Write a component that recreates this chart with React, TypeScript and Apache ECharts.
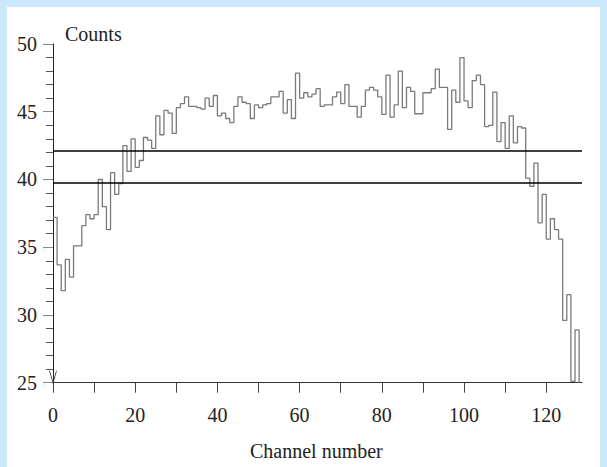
import React, { useEffect, useRef } from "react";
import * as echarts from "echarts";

// Counts per channel (channels 0..127)
const counts: number[] = [
  37.2, 33.7, 31.8, 34.1, 32.8, 35.1, 35.1, 36.6, 37.4, 37.1,
  37.4, 40.0, 38.0, 36.3, 40.5, 38.9, 39.7, 42.5, 40.6, 43.0,
  40.9, 41.4, 43.1, 42.9, 42.3, 44.7, 43.3, 45.1, 44.9, 43.4,
  45.3, 45.6, 46.1, 45.4, 45.4, 45.3, 45.2, 46.0, 45.4, 46.2,
  44.7, 44.9, 44.5, 44.2, 45.4, 46.1, 45.7, 45.6, 44.5, 45.5,
  45.3, 45.5, 45.6, 46.1, 46.1, 46.5, 44.9, 45.9, 44.5, 47.85,
  46.0, 46.4, 46.1, 46.3, 46.7, 45.4, 45.5, 45.5, 46.1, 46.45,
  45.6, 47.0, 45.4, 45.4, 44.6, 45.4, 46.6, 46.8, 46.6, 46.1,
  44.8, 47.7, 44.6, 45.5, 48.0, 45.3, 46.8, 46.5, 44.85, 44.85,
  46.4, 46.4, 46.7, 48.15, 46.8, 46.8, 43.7, 46.6, 45.7, 49.0,
  45.8, 45.3, 47.3, 47.7, 47.0, 43.9, 44.0, 46.45, 42.8, 44.2,
  42.3, 44.7, 42.7, 43.9, 43.8, 40.1, 39.5, 41.2, 36.8, 38.9,
  35.6, 37.1, 36.3, 35.6, 29.6, 31.5, 25.1, 28.9,
];

// Horizontal reference levels
const levels: number[] = [42.1, 39.75];

// Axis ticks and labels
const xTickValues: number[] = [0, 10, 20, 30, 40, 50, 60, 70, 80, 90, 100, 110, 120];
const xLabelValues: number[] = [0, 20, 40, 60, 80, 100, 120];
const yMin = 25;
const yMax = 50;
const xMax = 128.7;

const FONT = "Liberation Serif";

export default function App() {
  const ref = useRef<HTMLDivElement>(null);

  useEffect(() => {
    if (!ref.current) return;
    const chart = echarts.init(ref.current, undefined, { renderer: "svg" });

    const n = counts.length;
    const stepData: number[][] = counts.map((v, i) => [i, v]);
    stepData.push([n, counts[n - 1]]);
    stepData.push([n, yMin]);

    chart.setOption({
      animation: false,
      backgroundColor: "transparent",
      grid: { left: 53, top: 44, width: 529, height: 338.7, containLabel: false },
      xAxis: {
        type: "value",
        min: 0,
        max: xMax,
        interval: 10,
        splitLine: { show: false },
        axisLine: { show: true, lineStyle: { color: "#333", width: 1 } },
        axisTick: {
          show: true,
          length: 10,
          customValues: xTickValues,
          lineStyle: { color: "#444", width: 1 },
        },
        axisLabel: {
          customValues: xLabelValues,
          margin: 22,
          color: "#222",
          fontFamily: FONT,
          fontSize: 20,
        },
      },
      yAxis: {
        type: "value",
        min: yMin,
        max: yMax,
        interval: 5,
        splitLine: { show: false },
        axisLine: { show: true, lineStyle: { color: "#222", width: 1 } },
        axisTick: { show: true, length: 10, lineStyle: { color: "#888", width: 1 } },
        minorTick: { show: true, splitNumber: 5, length: 7, lineStyle: { color: "#555", width: 1 } },
        axisLabel: {
          margin: 16,
          color: "#222",
          fontFamily: FONT,
          fontSize: 20,
        },
      },
      graphic: [
        {
          type: "text",
          left: 65,
          top: 24,
          style: { text: "Counts", fontFamily: FONT, fontSize: 20, fill: "#222" },
        },
        {
          type: "text",
          left: 250,
          top: 441,
          style: { text: "Channel number", fontFamily: FONT, fontSize: 20, fill: "#222" },
        },
      ],
      series: [
        {
          type: "line",
          step: "end",
          data: stepData,
          showSymbol: false,
          symbol: "none",
          lineStyle: { color: "#7a7a7a", width: 1.3 },
          silent: true,
          markLine: {
            silent: true,
            symbol: "none",
            label: { show: false },
            lineStyle: { color: "#000", width: 1.5, type: "solid" },
            data: levels.map((v) => ({ yAxis: v })),
          },
          markPoint: {
            silent: true,
            symbol: "path://M0,0L5,12L10,0",
            symbolSize: [7, 12],
            symbolOffset: [0, -6],
            label: { show: false },
            itemStyle: { color: "transparent", borderColor: "#333", borderWidth: 1 },
            data: [{ coord: [0, yMin] }],
          },
        },
      ],
    });

    return () => chart.dispose();
  }, []);

  return (
    <div style={{ position: "fixed", left: 0, top: 0, width: 607, height: 467, background: "#cce9fc" }}>
      <div style={{ position: "absolute", left: 7, top: 7, width: 593, height: 460, background: "#ffffff" }} />
      <div ref={ref} style={{ position: "absolute", left: 0, top: 0, width: 607, height: 467 }} />
    </div>
  );
}
